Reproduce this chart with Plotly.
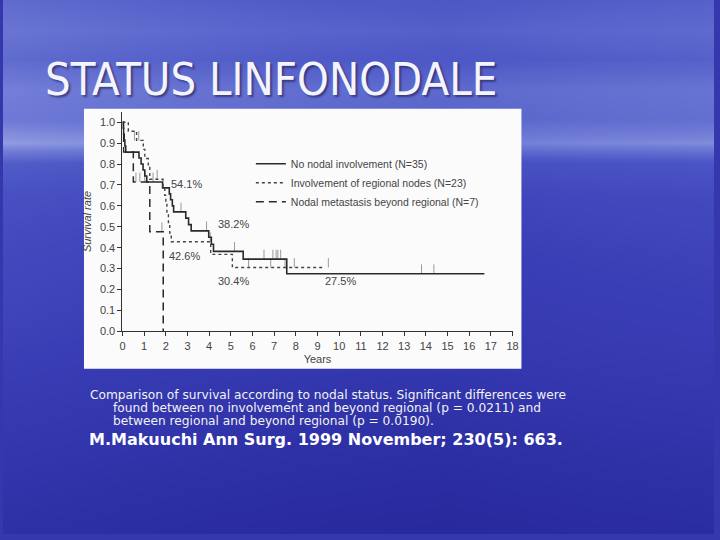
import numpy as np
import plotly.graph_objects as go

W, H = 720, 540

# ---------------- data ----------------
years_ticks = list(range(0, 19))
rate_ticks = [round(0.1 * i, 1) for i in range(0, 11)]

# No nodal involvement (N=35)
none_t = [0, 0.02, 0.05, 0.08, 0.11, 0.15, 0.76, 0.86, 0.95, 1.03, 1.12, 1.85, 2.16, 2.22,
          2.30, 2.36, 2.92, 3.05, 3.17, 3.98, 4.10, 4.20, 5.57, 7.58, 16.7]
none_s = [1.0, 0.971, 0.943, 0.914, 0.886, 0.857, 0.829, 0.80, 0.771, 0.743, 0.714, 0.686,
          0.657, 0.629, 0.60, 0.571, 0.541, 0.51, 0.48, 0.45, 0.416, 0.382, 0.345, 0.275, 0.275]
none_cens_t = [0.62, 0.80, 1.03, 1.41, 2.70, 3.88, 5.17, 6.53, 6.94, 7.09, 7.17, 7.30, 13.8, 14.37]
none_cens_s = [0.714, 0.714, 0.714, 0.714, 0.571, 0.48, 0.382, 0.345, 0.345, 0.345, 0.345, 0.345, 0.275, 0.275]

# Involvement of regional nodes (N=23)
reg_t = [0, 0.27, 0.65, 0.96, 1.03, 1.19, 1.26, 1.87, 1.95, 2.00, 2.05, 2.12, 2.18, 2.25, 4.07, 5.07, 9.3]
reg_s = [1.0, 0.957, 0.913, 0.870, 0.826, 0.783, 0.727, 0.69, 0.65, 0.61, 0.565, 0.52, 0.47,
         0.428, 0.368, 0.305, 0.305]
reg_cens_t = [0.55, 0.75, 1.60, 4.05, 5.82, 6.84, 7.50, 7.93, 9.50]
reg_cens_s = [0.913, 0.913, 0.727, 0.428, 0.305, 0.305, 0.305, 0.305, 0.305]

# Nodal metastasis beyond regional (N=7)
beyond_t = [0, 0.05, 0.50, 1.26, 1.88]
beyond_s = [1.0, 0.857, 0.714, 0.476, 0.0]
beyond_cens_t = [1.82]
beyond_cens_s = [0.476]

labels = ["No nodal involvement (N=35)", "Involvement of regional nodes (N=23)",
          "Nodal metastasis beyond regional (N=7)"]
pct_text = ["54.1%", "38.2%", "42.6%", "30.4%", "27.5%"]
pct_x = [2.96, 5.10, 2.85, 5.10, 10.07]
pct_y = [0.703, 0.513, 0.360, 0.242, 0.242]

title_text = "STATUS LINFONODALE"
caption_lines = [
    "Comparison of survival according to nodal status. Significant differences were",
    "found between no involvement and beyond regional (p = 0.0211) and",
    "between regional and beyond regional (p = 0.0190).",
]
reference_text = "M.Makuuchi Ann Surg. 1999 November; 230(5): 663."

# ---------------- slide background ----------------
bg_rows_y = [-30, 30, 60, 90, 120, 145, 165, 200, 260, 340, 420, 480, 570]
bg_rows_v = [0.60, 0.68, 0.64, 0.72, 0.70, 0.80, 0.58, 0.50, 0.45, 0.40, 0.32, 0.26, 0.18]
bg_cols_x = [-40, 150, 300, 450, 600, 760]
bg_cols_v = [0.10, 0.05, 0.02, 0.0, 0.03, 0.05]
bg_z = np.add.outer(np.array(bg_rows_v), np.array(bg_cols_v))

fig = go.Figure()
fig.add_trace(go.Heatmap(
    x=bg_cols_x, y=bg_rows_y, z=bg_z, zsmooth="best", showscale=False,
    colorscale=[[0, "rgb(38,40,155)"], [0.35, "rgb(58,62,182)"], [0.6, "rgb(78,88,198)"],
                [0.8, "rgb(112,124,214)"], [1.0, "rgb(165,175,230)"]],
    zmin=0.2, zmax=0.95, hoverinfo="skip", xaxis="x", yaxis="y"))
# white picture of the chart
fig.add_trace(go.Scatter(x=[82, 525, 525, 82, 82], y=[110, 110, 373, 373, 110],
                         fill="toself", fillcolor="#fbfbfb", line=dict(width=0),
                         mode="lines", hoverinfo="skip", showlegend=False,
                         xaxis="x", yaxis="y"))

# ---------------- survival curves ----------------
def censor_xy(ts, ss, h=0.045):
    xs, ys = [], []
    for t, s in zip(ts, ss):
        xs += [t, t, None]
        ys += [s, s + h, None]
    return xs, ys

ink = "#2a2a2a"
for ts, ss in [(none_cens_t, none_cens_s), (reg_cens_t, reg_cens_s), (beyond_cens_t, beyond_cens_s)]:
    cx, cy = censor_xy(ts, ss)
    fig.add_trace(go.Scatter(x=cx, y=cy, mode="lines", line=dict(color="#9a9a9a", width=1),
                             showlegend=False, hoverinfo="skip", xaxis="x2", yaxis="y2"))

fig.add_trace(go.Scatter(x=none_t, y=none_s, mode="lines", line_shape="hv", name=labels[0],
                         line=dict(color=ink, width=1.6), xaxis="x2", yaxis="y2"))
fig.add_trace(go.Scatter(x=reg_t, y=reg_s, mode="lines", line_shape="hv", name=labels[1],
                         line=dict(color="#444444", width=1.4, dash="dot"), xaxis="x2", yaxis="y2"))
fig.add_trace(go.Scatter(x=beyond_t, y=beyond_s, mode="lines", line_shape="hv", name=labels[2],
                         line=dict(color=ink, width=1.5, dash="8px,5px"), xaxis="x2", yaxis="y2"))

gray_font = dict(family="Liberation Sans, Arial, sans-serif", size=11, color="#444444")

annotations = []
for t, x, y in zip(pct_text, pct_x, pct_y):
    annotations.append(dict(x=x, y=y, xref="x2", yref="y2", text=t, showarrow=False,
                            font=gray_font, xanchor="center", yanchor="middle"))

# title (with a soft shadow)
annotations.append(dict(x=40 / W, y=1 - 80 / H, xref="paper", yref="paper",
                        text=title_text, showarrow=False, xanchor="left", yanchor="middle",
                        font=dict(family="DejaVu Sans Condensed, DejaVu Sans, sans-serif",
                                  size=45, color="#f4f4ff",
                                  shadow="2px 2px 2px rgba(30,30,80,0.6)")))
cap_pos = [(88, 399), (111, 412.5), (111, 426)]
for line, (px, py) in zip(caption_lines, cap_pos):
    annotations.append(dict(x=(px - 1) / W, y=1 - py / H, xref="paper", yref="paper", text=line,
                            showarrow=False, xanchor="left", yanchor="middle", borderpad=0,
                            font=dict(family="DejaVu Sans, sans-serif",
                                      size=12.2, color="#f2f2f2")))
annotations.append(dict(x=85 / W, y=1 - 444 / H, xref="paper", yref="paper",
                        text="<b>" + reference_text + "</b>", showarrow=False,
                        xanchor="left", yanchor="middle",
                        font=dict(family="DejaVu Sans, sans-serif",
                                  size=16, color="#ffffff")))

x_left, x_right = 121, 516
y_bottom, y_top = 335, 113

fig.update_layout(
    width=W, height=H, margin=dict(l=0, r=0, t=0, b=0),
    paper_bgcolor="rgb(52,56,172)", plot_bgcolor="rgba(0,0,0,0)",
    xaxis=dict(domain=[0, 1], range=[0, W], visible=False, fixedrange=True),
    yaxis=dict(domain=[0, 1], range=[H, 0], visible=False, fixedrange=True),
    xaxis2=dict(domain=[x_left / W, x_right / W], range=[0, 18], anchor="y2",
                tickvals=years_ticks, ticktext=[str(v) for v in years_ticks],
                showline=True, linecolor="#333333", linewidth=1.2, showgrid=False,
                zeroline=False, ticks="outside", ticklen=4, tickcolor="#333333",
                tickfont=gray_font,
                title=dict(text="Years", font=gray_font, standoff=4)),
    yaxis2=dict(domain=[1 - y_bottom / H, 1 - y_top / H], range=[0, 1.05], anchor="x2",
                tickvals=rate_ticks, ticktext=["%.1f" % v for v in rate_ticks],
                showline=True, linecolor="#333333", linewidth=1.2, showgrid=False,
                zeroline=False, ticks="outside", ticklen=4, tickcolor="#333333",
                tickfont=gray_font,
                title=dict(text="<i>Survival rate</i>", font=gray_font, standoff=6)),
    legend=dict(x=251 / W, y=1 - 151 / H, xanchor="left", yanchor="top",
                bgcolor="rgba(0,0,0,0)", font=dict(family="Liberation Sans, Arial, sans-serif",
                                                   size=10.5, color="#444444"),
                tracegroupgap=0, itemwidth=30),
    annotations=annotations,
)

fig.write_html("out.html", config={"displayModeBar": False},
               post_script="document.body.style.margin='0px';document.body.style.overflow='hidden';")
